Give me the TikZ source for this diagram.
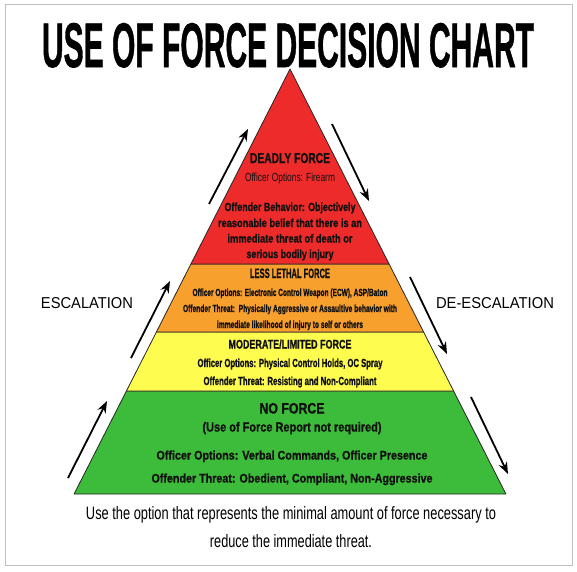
\documentclass[tikz,border=0pt]{standalone}
\usepackage{fontspec}
\setmainfont{Liberation Sans}[BoldFeatures={FakeBold=1.2}]
\usetikzlibrary{arrows.meta}
\definecolor{fred}{HTML}{EE2B2B}
\definecolor{forange}{HTML}{F8A02E}
\definecolor{fyellow}{HTML}{FFFC50}
\definecolor{fgreen}{HTML}{3DBB3A}
\definecolor{ink}{HTML}{111111}
% width, cap height, text
\newcommand{\fitwh}[3]{\resizebox{#1pt}{#2pt}{#3}}
\tikzset{
  layer/.style={draw=black!85, line width=0.8pt, line join=round},
  lbl/.style={inner sep=0pt, anchor=base, text=ink},
  flow/.style={line width=1.8pt, -{Stealth[length=12pt,width=9pt,inset=4pt]}},
}
\begin{document}
\begin{tikzpicture}[x=1pt,y=-1pt]
\useasboundingbox (0,0) rectangle (577,571);
\fill[white] (0,0) rectangle (577,571);
\draw[black!25, line width=1pt] (5,4) rectangle (572,565);

% title (baseline y, width, cap height)
\node[lbl, text=black] (title) at (288,67) {\fitwh{492}{44}{\bfseries USE OF FORCE DECISION CHART}};

% pyramid layers
\coordinate (apex) at (290,69);
\coordinate (a1) at (190.9,264); \coordinate (b1) at (389.1,264);
\coordinate (a2) at (156.4,332); \coordinate (b2) at (423.6,332);
\coordinate (a3) at (126.4,391); \coordinate (b3) at (453.6,391);
\coordinate (a4) at (74.1,494);  \coordinate (b4) at (505.9,494);
\filldraw[layer, fill=fgreen] (a3) -- (b3) -- (b4) -- (a4) -- cycle;
\filldraw[layer, fill=fyellow] (a2) -- (b2) -- (b3) -- (a3) -- cycle;
\filldraw[layer, fill=forange] (a1) -- (b1) -- (b2) -- (a2) -- cycle;
\filldraw[layer, fill=fred] (apex) -- (b1) -- (a1) -- cycle;

% red layer
\node[lbl] (df) at (290,163) {\fitwh{80}{10}{\bfseries DEADLY FORCE}};
\node[lbl] (dfo) at (290,181) {\fitwh{90}{8.5}{Officer Options: Firearm}};
\node[lbl] (dfb1) at (290,211) {\fitwh{131}{8.5}{\bfseries Offender Behavior: Objectively}};
\node[lbl] (dfb2) at (290,227) {\fitwh{144}{8.5}{\bfseries reasonable belief that there is an}};
\node[lbl] (dfb3) at (290,242.5) {\fitwh{125}{8.5}{\bfseries immediate threat of death or}};
\node[lbl] (dfb4) at (290,258) {\fitwh{87}{8.5}{\bfseries serious bodily injury}};

% orange layer
\node[lbl] (ll) at (290,278) {\fitwh{80}{9.5}{\bfseries LESS LETHAL FORCE}};
\node[lbl] (llo) at (290,296) {\fitwh{195}{7.5}{\bfseries Officer Options: Electronic Control Weapon (ECW), ASP/Baton}};
\node[lbl] (llt1) at (290,312) {\fitwh{214}{7.5}{\bfseries Offender Threat:\ \ Physically Aggressive or Assaultive behavior with}};
\node[lbl] (llt2) at (290,328) {\fitwh{146}{7.5}{\bfseries immediate likelihood of injury to self or others}};

% yellow layer
\node[lbl] (ml) at (290,348.5) {\fitwh{123}{9}{\bfseries MODERATE/LIMITED FORCE}};
\node[lbl] (mlo) at (290,367) {\fitwh{185}{8.5}{\bfseries Officer Options: Physical Control Holds, OC Spray}};
\node[lbl] (mlt) at (290,385) {\fitwh{173}{8.5}{\bfseries Offender Threat: Resisting and Non-Compliant}};

% green layer
\node[lbl] (nf) at (292,413.5) {\fitwh{65}{10.5}{\bfseries NO FORCE}};
\node[lbl] (nfr) at (292,431.5) {\fitwh{179}{9.5}{\bfseries (Use of Force Report not required)}};
\node[lbl] (nfo) at (292,459.5) {\fitwh{271}{9}{\bfseries Officer Options: Verbal Commands, Officer Presence}};
\node[lbl] (nft) at (292,482.5) {\fitwh{281}{9}{\bfseries Offender Threat: Obedient, Compliant, Non-Aggressive}};

% bottom note
\node[lbl, text=black] (note1) at (291,519) {\fitwh{410}{13}{Use the option that represents the minimal amount of force necessary to}};
\node[lbl, text=black] (note2) at (291,547) {\fitwh{162}{13}{reduce the immediate threat.}};

% side labels
\node[lbl, text=black] (esc) at (87,308.5) {\fitwh{92}{11}{ESCALATION}};
\node[lbl, text=black] (desc) at (495,308.5) {\fitwh{118}{11}{DE-ESCALATION}};

% escalation arrows
\coordinate (e1s) at (209,204); \coordinate (e1e) at (248,129);
\coordinate (e2s) at (131,358); \coordinate (e2e) at (170,281);
\coordinate (e3s) at (68,478);  \coordinate (e3e) at (107,401);
\draw[flow] (e1s) -- (e1e);
\draw[flow] (e2s) -- (e2e);
\draw[flow] (e3s) -- (e3e);
% de-escalation arrows
\coordinate (d1s) at (332,124); \coordinate (d1e) at (369,201);
\coordinate (d2s) at (410,277); \coordinate (d2e) at (447,354);
\coordinate (d3s) at (471,397); \coordinate (d3e) at (508,474);
\draw[flow] (d1s) -- (d1e);
\draw[flow] (d2s) -- (d2e);
\draw[flow] (d3s) -- (d3e);
\end{tikzpicture}
\end{document}
